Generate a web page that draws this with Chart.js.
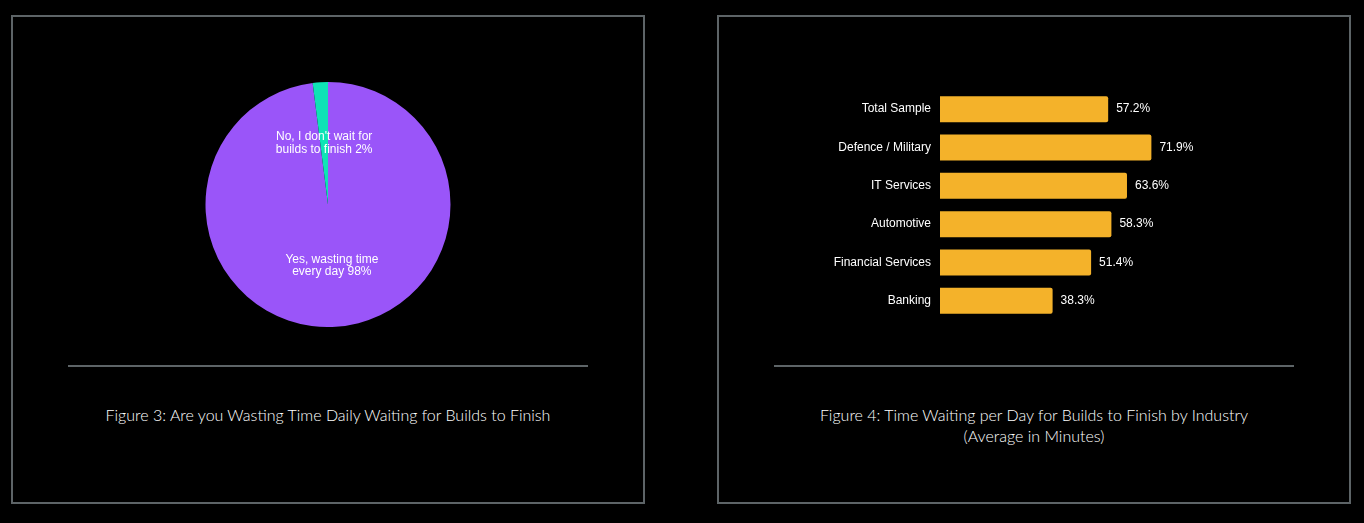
<!DOCTYPE html>
<html>
<head>
<meta charset="utf-8">
<script src="https://cdn.jsdelivr.net/npm/chart.js@4"></script>
<style>
  html, body { margin: 0; padding: 0; background: #000; }
  body { width: 1364px; height: 523px; position: relative; overflow: hidden; }
  .panel { position: absolute; top: 15px; width: 630px; height: 485px; border: 2px solid #5d6467; }
  .rule { position: absolute; top: 348px; left: 55px; width: 520px; height: 2px; background: #5d6467; }
  .caption { position: absolute; top: 387px; left: 0; width: 630px; text-align: center; color: #fff;
             font-family: Lato, sans-serif; font-weight: 300; font-size: 16px; line-height: 21px; }
  .box { position: absolute; }
</style>
</head>
<body>
<div class="panel" style="left:11px">
  <div class="rule"></div>
  <div class="caption">Figure 3: Are you Wasting Time Daily Waiting for Builds to Finish</div>
</div>
<div class="panel" style="left:717px">
  <div class="rule"></div>
  <div class="caption">Figure 4: Time Waiting per Day for Builds to Finish by Industry<br>(Average in Minutes)</div>
</div>
<div class="box" style="left:13px;top:82px;width:630px;height:245px"><canvas id="pieChart"></canvas></div>
<div class="box" style="left:760px;top:90px;width:474px;height:230px"><canvas id="barChart"></canvas></div>
<script>
Chart.defaults.color = '#fff'
Chart.defaults.font.family = '"Liberation Sans", Arial, sans-serif'
Chart.defaults.font.size = 12

const pieLabels = [['Yes, wasting time', 'every day'], ['No, I don\'t wait for', 'builds to finish']]
const pieValues = [98, 2]
const pieColors = ['#9a55f9', '#0fe3b5']

const industries = ['Total Sample', 'Defence / Military', 'IT Services', 'Automotive', 'Financial Services', 'Banking']
const minutes = [57.2, 71.9, 63.6, 58.3, 51.4, 38.3]

// slice text sits half way out along each slice's middle angle
const pieText = {
    id: 'pieText',
    afterDatasetsDraw(chart) {
        const ctx = chart.ctx
        ctx.save()
        ctx.fillStyle = '#fff'
        ctx.font = '12px "Liberation Sans", Arial, sans-serif'
        ctx.textAlign = 'center'
        ctx.textBaseline = 'middle'
        chart.getDatasetMeta(0).data.forEach((arc, i) => {
            const mid = (arc.startAngle + arc.endAngle) / 2
            const r = arc.outerRadius * 0.5
            const x = arc.x + Math.cos(mid) * r
            const y = arc.y + Math.sin(mid) * r
            const lines = pieLabels[i].slice()
            lines[lines.length - 1] += ' ' + pieValues[i] + '%'
            lines.forEach((t, j) => ctx.fillText(t, x, y + (j - (lines.length - 1) / 2) * 12.5))
        })
        ctx.restore()
    }
}

const barText = {
    id: 'barText',
    afterDatasetsDraw(chart) {
        const ctx = chart.ctx
        ctx.save()
        ctx.fillStyle = '#fff'
        ctx.font = '12px "Liberation Sans", Arial, sans-serif'
        ctx.textAlign = 'left'
        ctx.textBaseline = 'middle'
        chart.getDatasetMeta(0).data.forEach((bar, i) => {
            ctx.fillText(minutes[i].toFixed(1) + '%', bar.x + 8, bar.y)
        })
        ctx.restore()
    }
}

new Chart('pieChart', {
    type: 'pie',
    data: {
        labels: pieLabels.map(l => l.join(' ')),
        datasets: [{ data: pieValues, backgroundColor: pieColors, borderWidth: 0 }]
    },
    options: {
        responsive: true,
        maintainAspectRatio: false,
        animation: false,
        layout: { padding: 0 },
        plugins: { legend: { display: false }, tooltip: { enabled: false } }
    },
    plugins: [pieText]
})

new Chart('barChart', {
    type: 'bar',
    data: {
        labels: industries,
        datasets: [{
            data: minutes,
            backgroundColor: '#f4b22a',
            borderRadius: 2,
            barPercentage: 0.68,
            categoryPercentage: 1
        }]
    },
    options: {
        indexAxis: 'y',
        responsive: true,
        maintainAspectRatio: false,
        animation: false,
        layout: { padding: 0 },
        scales: {
            x: { display: false, min: 0, max: 100 },
            y: {
                border: { display: false },
                grid: { display: false, drawTicks: false },
                ticks: { padding: 9, color: '#fff', font: { size: 12 } },
                afterFit(axis) {
                    axis.width = 180
                    axis.paddingTop = 0
                    axis.paddingBottom = 0
                }
            }
        },
        plugins: { legend: { display: false }, tooltip: { enabled: false } }
    },
    plugins: [barText]
})
</script>
</body>
</html>
